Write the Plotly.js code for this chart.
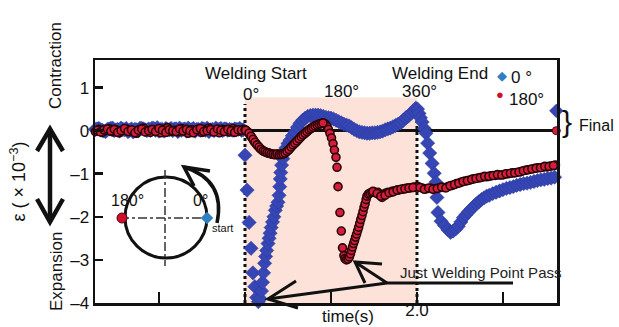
<!DOCTYPE html>
<html>
<head>
<meta charset="utf-8">
<script src="https://cdn.plot.ly/plotly-3.0.1.min.js"></script>
<style>html,body{margin:0;padding:0;background:#fff;}#chart{width:619px;height:327px;}</style>
</head>
<body>
<div id="chart"></div>
<script>
// ---- data (time in s, strain in 1e-3) ----
const preTimeA = [0.13,0.15,0.17,0.19,0.21,0.23,0.25,0.27,0.29,0.31,0.33,0.35,0.37,0.39,0.41,0.43,0.45,0.47,0.49,0.51,0.53,0.55,0.57,0.59,0.61,0.63,0.65,0.67,0.69,0.71,0.73,0.75,0.77,0.79,0.81,0.83,0.85,0.87,0.89,0.91,0.93,0.95,0.97,0.99];
const preTimeB = [0.14,0.16,0.18,0.20,0.22,0.24,0.26,0.28,0.30,0.32,0.34,0.36,0.38,0.40,0.42,0.44,0.46,0.48,0.50,0.52,0.54,0.56,0.58,0.60,0.62,0.64,0.66,0.68,0.70,0.72,0.74,0.76,0.78,0.80,0.82,0.84,0.86,0.88,0.90,0.92,0.94,0.96,0.98];

// 0° (blue diamonds)
const time0 = [
1.000,1.012,1.024,1.035,1.046,1.057,1.068,1.078,1.088,1.096,
1.102,1.108,1.114,1.12,1.126,1.134,1.14,1.146,1.152,1.16,
1.168,1.176,1.184,1.192,1.198,1.202,1.205,1.208,1.213,1.22,
1.228,1.238,1.25,1.262,1.275,1.29,1.305,1.32,1.335,1.35,
1.365,1.38,1.395,1.41,1.425,1.44,1.455,1.47,1.485,1.5,
1.515,1.53,1.545,1.56,1.575,1.59,1.605,1.62,1.635,1.65,
1.665,1.68,1.695,1.71,1.725,1.74,1.755,1.77,1.785,1.8,
1.815,1.83,1.845,1.86,1.875,1.89,1.905,1.92,1.935,1.95,
1.965,1.98,1.993,2.003,2.012,2.02,2.03,2.042,2.052,2.062,
2.074,2.088,2.1,2.11,2.116,2.122,2.14,2.16,2.18,2.195,
2.21,2.225,2.24,2.255,2.27,2.285,2.3,2.315,2.33,2.345,
2.36,2.375,2.39,2.405,2.42,2.44,2.46,2.48,2.5,2.52,
2.54,2.56,2.58,2.6,2.62,2.64,2.66,2.68,2.7,2.72,
2.74,2.76,2.78,2.8];
const strain0 = [
-0.57,-1.38,-2.13,-2.73,-3.3,-3.62,-3.87,-3.97,-3.9,-3.72,
-3.52,-3.3,-3.08,-2.92,-2.78,-2.62,-2.5,-2.38,-2.25,-2.12,
-2.0,-1.85,-1.75,-1.66,-1.5,-1.3,-1.12,-0.97,-0.8,-0.65,
-0.52,-0.4,-0.3,-0.22,-0.12,-0.03,0.08,0.17,0.24,0.29,
0.33,0.35,0.36,0.36,0.36,0.35,0.33,0.31,0.3,0.29,
0.27,0.24,0.21,0.18,0.15,0.13,0.11,0.07,0.03,0.0,
-0.03,-0.04,-0.05,-0.06,-0.06,-0.05,-0.05,-0.04,-0.03,-0.01,
0.02,0.04,0.06,0.09,0.12,0.15,0.18,0.24,0.3,0.34,
0.4,0.46,0.52,0.5,0.4,0.3,0.2,0.05,-0.06,-0.29,
-0.52,-0.76,-0.99,-1.2,-1.55,-1.9,-2.1,-2.2,-2.3,-2.36,
-2.33,-2.28,-2.22,-2.12,-2.02,-1.95,-1.88,-1.82,-1.76,-1.7,
-1.65,-1.6,-1.56,-1.52,-1.5,-1.46,-1.43,-1.4,-1.37,-1.34,
-1.32,-1.3,-1.27,-1.25,-1.23,-1.22,-1.2,-1.18,-1.16,-1.14,
-1.13,-1.11,-1.1,-1.08];
const pre0A = [
0.03,0.05,0.01,-0.02,0.04,0.06,0.02,-0.01,0.03,0.05,
0.01,-0.03,0.02,0.06,0.04,0.0,0.01,0.05,0.07,0.03,
-0.01,0.02,0.05,0.04,-0.02,0.01,0.04,0.06,0.02,-0.01,
0.03,0.05,0.01,-0.02,0.03,0.06,0.03,0.0,0.04,0.03,
0.01,0.03,0.05,0.02];
const pre0B = [
0.04,0.02,-0.01,0.03,0.05,0.0,0.03,0.06,0.02,-0.02,
0.04,0.03,0.0,0.05,0.02,0.04,0.06,0.01,-0.01,0.03,
0.05,0.02,0.0,0.04,0.06,0.03,-0.01,0.02,0.05,0.03,
0.01,0.04,0.06,0.02,0.0,0.03,0.05,0.04,0.01,0.02,
0.04,0.03,0.01];

// 180° (red circles)
const time180 = [
1.0,1.008,1.017,1.029,1.041,1.052,1.064,1.076,1.087,1.099,
1.11,1.122,1.134,1.145,1.157,1.169,1.18,1.192,1.203,1.215,
1.227,1.238,1.25,1.262,1.273,1.285,1.296,1.308,1.32,1.331,
1.343,1.355,1.366,1.378,1.39,1.401,1.413,1.424,1.436,1.448,
1.459,1.468,1.477,1.485,1.494,1.503,1.512,1.52,1.529,1.535,
1.541,1.552,1.56,1.567,1.575,1.581,1.59,1.599,1.607,1.613,
1.619,1.625,1.631,1.637,1.643,1.649,1.655,1.661,1.667,1.673,
1.68,1.686,1.692,1.698,1.704,1.709,1.718,1.727,1.738,1.75,
1.762,1.773,1.785,1.797,1.808,1.82,1.832,1.843,1.855,1.866,
1.878,1.89,1.901,1.913,1.924,1.936,1.948,1.959,1.971,1.983,
1.994,2.006,2.03,2.055,2.08,2.105,2.13,2.155,2.18,2.205,
2.23,2.255,2.28,2.305,2.33,2.355,2.38,2.405,2.43,2.455,
2.48,2.505,2.53,2.555,2.58,2.605,2.63,2.655,2.68,2.705,
2.73,2.755,2.78,2.805];
const strain180 = [
0.02,0.0,-0.03,-0.1,-0.17,-0.24,-0.3,-0.36,-0.41,-0.45,
-0.48,-0.5,-0.52,-0.53,-0.54,-0.55,-0.55,-0.55,-0.54,-0.55,
-0.53,-0.5,-0.46,-0.41,-0.36,-0.31,-0.27,-0.22,-0.17,-0.12,
-0.08,-0.04,0.0,0.04,0.07,0.1,0.12,0.14,0.16,0.17,
0.17,0.15,0.1,0.03,-0.06,-0.17,-0.3,-0.45,-0.62,-0.85,
-1.3,-1.9,-2.33,-2.72,-2.9,-2.97,-3.0,-2.98,-2.93,-2.86,
-2.78,-2.7,-2.62,-2.55,-2.47,-2.4,-2.32,-2.24,-2.15,-2.06,
-1.97,-1.88,-1.78,-1.7,-1.6,-1.52,-1.47,-1.45,-1.43,-1.42,
-1.44,-1.43,-1.5,-1.55,-1.47,-1.45,-1.43,-1.44,-1.41,-1.4,
-1.39,-1.38,-1.37,-1.36,-1.35,-1.34,-1.33,-1.33,-1.32,-1.31,
-1.31,-1.3,-1.33,-1.35,-1.34,-1.35,-1.33,-1.32,-1.3,-1.27,
-1.23,-1.2,-1.17,-1.15,-1.12,-1.1,-1.08,-1.07,-1.05,-1.04,
-1.03,-1.02,-1.0,-0.98,-0.97,-0.95,-0.92,-0.9,-0.88,-0.86,
-0.85,-0.84,-0.82,-0.8];
const time180B = [
1.004,1.023,1.035,1.047,1.058,1.07,1.082,1.093,1.105,1.116,
1.128,1.14,1.151,1.163,1.175,1.186,1.198,1.209,1.221,1.233,
1.244,1.256,1.268,1.279,1.29,1.302,1.314,1.326,1.337,1.349,
1.36,1.372,1.384,1.395,1.407,1.419,1.43,1.442,1.453,
1.744,1.768,1.79,1.814,1.838,1.861,1.884,1.907,1.93,1.953,1.977,
2.018,2.043,2.068,2.093,2.118,2.143,2.168,2.193,2.218,2.243,
2.268,2.293,2.318,2.343,2.368,2.393,2.418,2.443,2.468,2.493,
2.518,2.543,2.568,2.593,2.618,2.643,2.668,2.693,2.718,2.743,
2.768,2.793];
const strain180B = [
0.01,-0.06,-0.13,-0.2,-0.27,-0.33,-0.38,-0.43,-0.47,-0.49,
-0.51,-0.52,-0.54,-0.55,-0.56,-0.54,-0.56,-0.55,-0.54,-0.52,
-0.48,-0.44,-0.38,-0.33,-0.29,-0.24,-0.19,-0.14,-0.1,-0.06,
-0.02,0.02,0.05,0.08,0.11,0.13,0.15,0.16,0.18,
-1.41,-1.46,-1.52,-1.5,-1.44,-1.42,-1.38,-1.36,-1.35,-1.33,-1.32,
-1.32,-1.36,-1.33,-1.36,-1.34,-1.31,-1.33,-1.28,-1.25,-1.22,
-1.18,-1.16,-1.13,-1.11,-1.09,-1.06,-1.06,-1.04,-1.02,-1.03,
-1.0,-0.99,-0.98,-0.96,-0.93,-0.91,-0.89,-0.87,-0.86,-0.83,
-0.83,-0.81];
const pre180A = [
-0.02,0.03,-0.04,0.0,0.05,-0.03,0.02,-0.05,0.01,0.04,
-0.02,0.0,-0.06,0.03,0.06,-0.01,-0.04,0.02,0.0,-0.05,
0.04,0.07,-0.02,0.01,-0.03,0.05,0.0,-0.06,0.02,-0.01,
0.04,-0.04,0.03,0.06,-0.02,0.0,-0.05,0.03,0.01,-0.03,
0.05,0.02,-0.01,0.03];
const pre180B = [
0.01,-0.03,0.02,0.04,-0.01,0.03,-0.04,0.0,0.05,-0.02,
0.02,-0.05,0.01,0.04,-0.03,0.0,0.03,-0.02,0.05,0.01,
-0.04,0.02,0.0,-0.02,0.04,-0.01,0.03,0.0,-0.05,0.02,
0.05,-0.02,0.0,0.03,-0.03,0.04,0.01,-0.02,0.03,0.0,
-0.04,0.02,0.01];

// final (residual) values shown at the right border
const finalTime = [2.81];
const final0 = [0.46];
const final180 = [0.0];

const xMinorTicks = [0.5,1.0,1.5,2.5];
const xTickVals = [2.0];
const xTickText = ['2.0'];
const yTickVals = [1,0,-1,-2,-3,-4];
const yTickText = ['1','0','–1','–2','–3','–4'];
const weldStart = 1.0, weldEnd = 2.0;

// ---- styling ----
const BLUE = '#3646b4', RED = '#d81c3c';
const blueMarker = {symbol:'diamond', size:11, color:BLUE, line:{width:0.5, color:'#2a389a'}};
const redMarker = {symbol:'circle', size:8, color:RED, line:{width:1.6, color:'#2a0608'}};
const traces = [
  {x:preTimeA.concat(preTimeB, time0), y:pre0A.concat(pre0B, strain0), type:'scatter', mode:'markers', name:'0°', cliponaxis:false, marker:blueMarker},
  {x:preTimeA.concat(preTimeB, time180, time180B), y:pre180A.concat(pre180B, strain180, strain180B), type:'scatter', mode:'markers', name:'180°', cliponaxis:false, marker:redMarker},
  {x:finalTime, y:final0, type:'scatter', mode:'markers', name:'0° final', cliponaxis:false,
   marker:{symbol:'diamond', size:11, color:BLUE, line:{width:0}}},
  {x:finalTime, y:final180, type:'scatter', mode:'markers', name:'180° final', cliponaxis:false,
   marker:{symbol:'circle', size:8, color:RED, line:{width:1, color:'#5a0010'}}}
];

// pixel -> paper helpers for decorations
const L=95, R=557, T=60, B=303;
const X = px => (px - L) / (R - L);
const Y = py => (B - py) / (B - T);
const P = (px,py) => X(px).toFixed(4) + ',' + Y(py).toFixed(4);

const K = '#111';
const shapes = [
  {type:'rect', xref:'x', yref:'y', x0:weldStart, x1:weldEnd, y0:-4, y1:0.77, fillcolor:'#fce2d8', line:{width:0}, layer:'below'},
  {type:'line', xref:'x', yref:'y', x0:weldStart, x1:weldStart, y0:-4, y1:0.62, line:{color:K, width:3, dash:'dot'}, layer:'below'},
  {type:'line', xref:'x', yref:'y', x0:weldEnd, x1:weldEnd, y0:-4, y1:0.55, line:{color:K, width:3, dash:'dot'}, layer:'below'},
  // inset circle
  {type:'circle', xref:'paper', yref:'paper', x0:X(125), x1:X(207), y0:Y(258), y1:Y(177), line:{color:K, width:3}},
  {type:'line', xref:'paper', yref:'paper', x0:X(165), x1:X(165), y0:Y(170), y1:Y(266), line:{color:'#333', width:1.5, dash:'dashdot'}},
  {type:'line', xref:'paper', yref:'paper', x0:X(120), x1:X(211), y0:Y(218), y1:Y(218), line:{color:'#333', width:1.5, dash:'dashdot'}},
  {type:'circle', xref:'paper', yref:'paper', x0:X(117), x1:X(127), y0:Y(223), y1:Y(213), fillcolor:'#d0102a', line:{color:'#5a0010', width:1}},
  {type:'path', xref:'paper', yref:'paper', path:'M'+P(207,212)+'L'+P(213,218)+'L'+P(207,224)+'L'+P(201,218)+'Z', fillcolor:'#2f7fc1', line:{color:'#2f7fc1', width:0.5}},
  {type:'path', xref:'paper', yref:'paper', path:'M'+P(217,223)+'Q'+P(226,180)+' '+P(184,167), line:{color:K, width:3.5}},
  {type:'path', xref:'paper', yref:'paper', path:'M'+P(210,171)+'L'+P(184,167)+'L'+P(194,186), line:{color:K, width:3.5}},
  // left double arrow
  {type:'line', xref:'paper', yref:'paper', x0:X(50), x1:X(50), y0:Y(131), y1:Y(220), line:{color:K, width:4.5}},
  {type:'path', xref:'paper', yref:'paper', path:'M'+P(37,151)+'L'+P(50,129)+'L'+P(63,151), line:{color:K, width:4.5}},
  {type:'path', xref:'paper', yref:'paper', path:'M'+P(37,199)+'L'+P(50,222)+'L'+P(63,199), line:{color:K, width:4.5}},
  // pointer arrows
  {type:'path', xref:'paper', yref:'paper', path:'M'+P(513,283)+'L'+P(387,283)+'L'+P(268,299), line:{color:K, width:3}},
  {type:'path', xref:'paper', yref:'paper', path:'M'+P(296,281)+'L'+P(268,299)+'L'+P(298,308), line:{color:K, width:3}},
  {type:'path', xref:'paper', yref:'paper', path:'M'+P(387,283)+'L'+P(355,262), line:{color:K, width:3}},
  {type:'path', xref:'paper', yref:'paper', path:'M'+P(382,264)+'L'+P(355,262)+'L'+P(365,283), line:{color:K, width:3}}
];

const F = 'Liberation Sans, Arial, sans-serif';
function ann(text, px, py, opts) {
  return Object.assign({text:text, xref:'paper', yref:'paper', x:X(px), y:Y(py), showarrow:false,
    xanchor:'center', yanchor:'middle', font:{family:F, size:17, color:K}}, opts || {});
}
const annotations = [
  ann('Welding Start', 256, 74),
  ann('0°', 251, 94),
  ann('180°', 341, 91),
  ann('360°', 419, 91),
  ann('Welding End', 440, 74),
  ann('◆', 502, 75, {font:{family:F, size:13, color:'#2f7fc1'}}),
  ann('0 °', 509, 77, {xanchor:'left'}),
  ann('●', 500, 94, {font:{family:F, size:13, color:'#d0102a'}}),
  ann('180°', 507, 99, {xanchor:'left'}),
  ann('}', 567, 121, {font:{family:F, size:30, color:K}}),
  ann('Final', 577, 125, {xanchor:'left', font:{family:F, size:16, color:K}}),
  ann('Contraction', 55, 66, {textangle:-90}),
  ann('Expansion', 56, 272, {textangle:-90}),
  ann('180°', 127, 200, {font:{family:F, size:16, color:K}}),
  ann('0°', 200, 200, {font:{family:F, size:16, color:K}}),
  ann('start', 222, 228, {font:{family:F, size:11, color:K}}),
  ann('Just Welding Point Pass', 480, 272, {font:{family:F, size:15, color:'#222'}}),
  ann('time(s)', 348, 316)
];

const layout = {
  width:619, height:327,
  margin:{l:L, r:619-R, t:T, b:327-B, pad:0},
  paper_bgcolor:'#fff', plot_bgcolor:'#fff',
  showlegend:false,
  font:{family:F, size:17, color:K},
  xaxis:{range:[0.128,2.814], tickmode:'array', tickvals:xTickVals, ticktext:xTickText, ticks:'inside', ticklen:11, tickwidth:2.5, tickcolor:K,
         ticklabelstandoff:-10,
         minor:{tickmode:'array', tickvals:xMinorTicks, ticks:'inside', ticklen:11, tickwidth:2.5, tickcolor:K, showgrid:false},
         showline:true, mirror:true, linewidth:2.5, linecolor:K, showgrid:false, zeroline:false, tickfont:{family:F, size:17, color:K}},
  yaxis:{range:[-4,1.64], tickmode:'array', tickvals:yTickVals, ticktext:yTickText, ticks:'inside', ticklen:8, tickwidth:2.5, tickcolor:K,
         showline:true, mirror:true, linewidth:2.5, linecolor:K, showgrid:false,
         zeroline:true, zerolinecolor:K, zerolinewidth:2.5, tickfont:{family:F, size:17, color:K},
         title:{text:'ε ( × 10<sup>−3</sup>)', standoff:40, font:{family:F, size:18, color:K}}},
  shapes:shapes,
  annotations:annotations
};

Plotly.newPlot('chart', traces, layout, {displayModeBar:false, staticPlot:true});
</script>
</body>
</html>
